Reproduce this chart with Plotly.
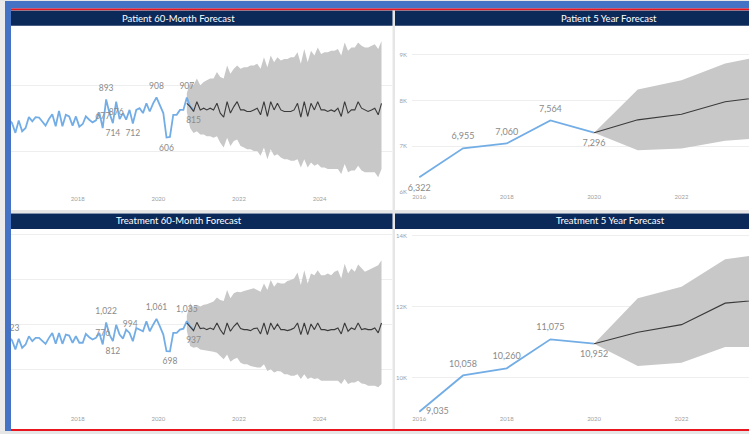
import pandas as pd
import plotly.graph_objects as go

W, H = 749, 434

# ---------------- data ----------------
# monthly points (mid-month), Jan 2016 onwards
month_start = "2016-01-01"
n_months = 115
hist_len = 59          # Jan 2016 .. Nov 2020
fc_start = 56          # forecast starts Sep 2020

patient_hist = [720, 760, 690, 745, 715, 641, 735, 653, 678, 760,
                728, 760, 757, 728, 696, 745, 782, 691, 807, 691,
                777, 765, 696, 765, 688, 708, 765, 740, 720, 735,
                795, 677, 893, 790, 714, 876, 745, 790, 740, 814,
                712, 814, 827, 790, 864, 802, 864, 908, 851, 790,
                606, 610, 777, 777, 814, 814, 907, 840, 815]
patient_fc = [864,
              839, 802, 876, 814, 827, 814, 827, 814, 864, 790,
              760, 876, 790, 839, 876, 814, 814, 802, 802, 814,
              827, 777, 876, 765, 876, 814, 864, 814, 802, 802,
              802, 814, 864, 760, 876, 765, 864, 814, 876, 814,
              814, 802, 814, 802, 827, 765, 876, 790, 814, 814,
              876, 827, 814, 802, 814, 827, 777, 864]
patient_fc_hi = [940,
                 1025, 1000, 1050, 1000, 1025, 1037, 1050, 1050, 1099, 1062,
                 1050, 1149, 1087, 1124, 1149, 1124, 1136, 1136, 1149, 1149,
                 1161, 1124, 1210, 1136, 1223, 1173, 1210, 1186, 1198, 1198,
                 1210, 1210, 1248, 1161, 1272, 1173, 1260, 1223, 1285, 1235,
                 1248, 1248, 1260, 1260, 1272, 1223, 1322, 1260, 1285, 1285,
                 1322, 1297, 1285, 1285, 1297, 1309, 1272, 1334]
patient_fc_lo = [800,
                 678, 641, 653, 629, 629, 616, 616, 604, 616, 567,
                 530, 604, 542, 579, 592, 542, 530, 517, 517, 505,
                 505, 468, 530, 443, 517, 468, 480, 456, 443, 443,
                 431, 431, 443, 381, 443, 381, 418, 394, 406, 381,
                 381, 369, 369, 369, 369, 332, 406, 344, 357, 357,
                 394, 357, 344, 344, 344, 344, 307, 369]
patient_labels = [(31, "top center"), (32, "top center"), (34, "bottom center"),
                  (35, "bottom center"), (40, "bottom center"), (47, "top center"),
                  (50, "bottom center"), (56, "top center"), (58, "bottom center")]

treat_hist = [850, 880, 800, 860, 823, 720, 838, 738, 775, 867,
              812, 849, 849, 819, 782, 849, 904, 782, 904, 782,
              886, 875, 794, 867, 794, 794, 893, 856, 830, 849,
              904, 776, 1022, 886, 812, 994, 886, 841, 941, 904,
              812, 959, 941, 923, 1033, 923, 996, 1061, 978, 886,
              701, 698, 904, 904, 941, 952, 1035, 978, 937]
treat_fc = [1015,
            978, 930, 1022, 952, 959, 941, 959, 941, 1015, 941,
            886, 1015, 923, 978, 1015, 952, 941, 941, 930, 952,
            959, 893, 1015, 886, 1015, 941, 1004, 941, 941, 930,
            941, 959, 1015, 886, 1015, 886, 1004, 941, 1015, 941,
            941, 930, 941, 941, 959, 893, 1015, 923, 959, 941,
            1015, 941, 952, 941, 941, 959, 904, 1015]
treat_fc_hi = [1100,
               1236, 1181, 1218, 1199, 1218, 1225, 1236, 1254, 1299, 1273,
               1262, 1383, 1291, 1347, 1365, 1358, 1372, 1383, 1394, 1402,
               1383, 1365, 1457, 1383, 1494, 1420, 1468, 1457, 1457, 1483,
               1494, 1513, 1579, 1439, 1605, 1457, 1568, 1549, 1605, 1549,
               1549, 1568, 1549, 1586, 1605, 1513, 1678, 1568, 1623, 1586,
               1667, 1623, 1586, 1605, 1623, 1642, 1660, 1715]
treat_fc_lo = [930,
               757, 738, 746, 720, 709, 701, 701, 694, 683, 646,
               609, 664, 583, 609, 628, 572, 554, 554, 535, 524,
               517, 517, 554, 480, 499, 462, 480, 473, 443, 443,
               425, 425, 443, 388, 443, 388, 406, 388, 399, 370,
               370, 370, 370, 370, 370, 333, 388, 333, 351, 351,
               370, 340, 333, 314, 314, 314, 296, 333]
treat_labels = [(4, "top center"), (31, "top center"), (32, "top center"),
                (34, "bottom center"), (35, "middle right"), (47, "top center"),
                (51, "bottom center"), (56, "top center"), (58, "bottom center")]

# yearly
years_hist = [2016, 2017, 2018, 2019, 2020]
years_fc = [2020, 2021, 2022, 2023, 2024]
patient_year = [6322, 6955, 7060, 7564, 7296]
patient_year_fc = [7296, 7577, 7700, 7974, 8090]
patient_year_hi = [7296, 8243, 8445, 8807, 9000]
patient_year_lo = [7296, 6911, 6948, 7121, 7189]
patient_year_pos = ["bottom center", "top center", "top center", "top center", "bottom center"]

treat_year = [9035, 10058, 10260, 11075, 10952]
treat_year_fc = [10952, 11276, 11489, 12095, 12205]
treat_year_hi = [10952, 12235, 12560, 13332, 13500]
treat_year_lo = [10952, 10326, 10419, 10858, 10860]
treat_year_pos = ["middle right", "top center", "top center", "top center", "bottom center"]

titles = ["Patient 60-Month Forecast", "Patient 5 Year Forecast",
          "Treatment 60-Month Forecast", "Treatment 5 Year Forecast"]
month_ticks = ["2018-01-01", "2020-01-01", "2022-01-01", "2024-01-01"]
month_tick_text = ["2018", "2020", "2022", "2024"]
year_ticks = [2016, 2018, 2020, 2022]
patient_year_ticks = [6000, 7000, 8000, 9000]
patient_year_tick_text = ["6K", "7K", "8K", "9K"]
treat_year_ticks = [10000, 12000, 14000]
treat_year_tick_text = ["10K", "12K", "14K"]

# ---------------- styles ----------------
BLUE_LINE = "#73ade6"
FC_LINE = "#3a3a3a"
BAND = "#c8c8c8"
GRID = "#eeeeee"
LABEL = "#8a8a8a"
TICK = "#a0a0a0"
NAVY = "#0b2a5a"
FRAME_BLUE = "#4472c4"
RED = "#e8141e"
FONT = "Lato, 'Open Sans', sans-serif"


def fx(p):
    return p / W


def fy(p):
    return 1 - p / H


months = [d.strftime("%Y-%m-%d") for d in
          (pd.date_range(month_start, periods=n_months, freq="MS") + pd.Timedelta(days=14))]
hist_dates = months[:hist_len]
fc_dates = months[fc_start:fc_start + len(patient_fc)]

fig = go.Figure()


def add_monthly(hist, fc, hi, lo, labels, xa, ya):
    fig.add_trace(go.Scatter(x=fc_dates + fc_dates[::-1], y=hi + lo[::-1], fill="toself",
                             fillcolor=BAND, line=dict(width=0), mode="lines",
                             xaxis=xa, yaxis=ya, hoverinfo="skip"))
    fig.add_trace(go.Scatter(x=hist_dates, y=hist, mode="lines",
                             line=dict(color=BLUE_LINE, width=1.8),
                             xaxis=xa, yaxis=ya, hoverinfo="skip"))
    fig.add_trace(go.Scatter(x=fc_dates, y=fc, mode="lines",
                             line=dict(color=FC_LINE, width=1.1),
                             xaxis=xa, yaxis=ya, hoverinfo="skip"))
    idx = [k for k, _ in labels]
    fig.add_trace(go.Scatter(x=[hist_dates[k] for k in idx], y=[hist[k] for k in idx],
                             mode="markers+text", text=[f"{hist[k]:,}" for k in idx],
                             textposition=[p for _, p in labels],
                             marker=dict(size=9, color="rgba(0,0,0,0)"),
                             textfont=dict(size=8.5, color=LABEL, family=FONT),
                             cliponaxis=True, xaxis=xa, yaxis=ya, hoverinfo="skip"))


def add_yearly(hist, fc, hi, lo, pos, xa, ya):
    fig.add_trace(go.Scatter(x=years_fc + years_fc[::-1], y=hi + lo[::-1], fill="toself",
                             fillcolor=BAND, line=dict(width=0), mode="lines",
                             xaxis=xa, yaxis=ya, hoverinfo="skip"))
    fig.add_trace(go.Scatter(x=years_hist, y=hist, mode="lines",
                             line=dict(color=BLUE_LINE, width=1.8),
                             xaxis=xa, yaxis=ya, hoverinfo="skip"))
    fig.add_trace(go.Scatter(x=years_fc, y=fc, mode="lines",
                             line=dict(color=FC_LINE, width=1.1),
                             xaxis=xa, yaxis=ya, hoverinfo="skip"))
    fig.add_trace(go.Scatter(x=years_hist, y=hist, mode="markers+text",
                             text=[f"{v:,}" for v in hist], textposition=pos,
                             marker=dict(size=9, color="rgba(0,0,0,0)"),
                             textfont=dict(size=9, color=LABEL, family=FONT),
                             cliponaxis=False, xaxis=xa, yaxis=ya, hoverinfo="skip"))


add_monthly(patient_hist, patient_fc, patient_fc_hi, patient_fc_lo, patient_labels, "x", "y")
add_yearly(patient_year, patient_year_fc, patient_year_hi, patient_year_lo, patient_year_pos, "x2", "y2")
add_monthly(treat_hist, treat_fc, treat_fc_hi, treat_fc_lo, treat_labels, "x3", "y3")
add_yearly(treat_year, treat_year_fc, treat_year_hi, treat_year_lo, treat_year_pos, "x4", "y4")

tickfont = dict(size=6, color=TICK, family=FONT)
month_x = dict(type="date", range=["2016-05-06", "2025-10-18"], tickvals=month_ticks,
               ticktext=month_tick_text, showgrid=False, zeroline=False, showline=False,
               ticks="", tickfont=tickfont, domain=[fx(11), fx(392)])
year_x = dict(range=[2015.833, 2023.545], tickvals=year_ticks, ticktext=[str(t) for t in year_ticks],
              showgrid=False, zeroline=False, showline=False, ticks="", tickfont=tickfont,
              domain=[fx(412), 1])

fig.update_layout(
    width=W, height=H, margin=dict(l=0, r=0, t=0, b=0),
    paper_bgcolor="#e6e6e6", plot_bgcolor="rgba(0,0,0,0)", showlegend=False,
    hovermode=False,
    xaxis=dict(month_x, anchor="y"),
    yaxis=dict(domain=[fy(195), fy(27)], range=[179, 1433], dtick=500, tick0=0,
               gridcolor=GRID, showticklabels=False, zeroline=False, anchor="x"),
    xaxis2=dict(year_x, anchor="y2"),
    yaxis2=dict(domain=[fy(192.7), fy(31)], range=[6000, 9505], tickvals=patient_year_ticks,
                ticktext=patient_year_tick_text, gridcolor=GRID, zeroline=False, ticks="",
                tickfont=tickfont, ticklabelstandoff=4, anchor="x2"),
    xaxis3=dict(month_x, anchor="y3"),
    yaxis3=dict(domain=[fy(416.7), fy(234)], range=[0, 2022], dtick=500, tick0=0,
                gridcolor=GRID, showticklabels=False, zeroline=False, anchor="x3"),
    xaxis4=dict(year_x, anchor="y4"),
    yaxis4=dict(domain=[fy(417), fy(234)], range=[8968, 14075], tickvals=treat_year_ticks,
                ticktext=treat_year_tick_text, gridcolor=GRID, zeroline=False, ticks="",
                tickfont=tickfont, ticklabelstandoff=4, anchor="x4"),
)


def rect(x0, y0, x1, y1, color, layer="below"):
    fig.add_shape(type="rect", xref="paper", yref="paper", x0=fx(x0), x1=fx(x1),
                  y0=fy(y1), y1=fy(y0), fillcolor=color, line=dict(width=0), layer=layer)


# panels
rect(11, 9, 392.5, 211, "white")
rect(395, 9, 749, 211, "white")
rect(11, 214, 392.5, 432, "white")
rect(395, 214, 749, 432, "white")
# title bars
rect(11, 9.5, 392.5, 25, NAVY, "above")
rect(395, 9.5, 749, 25, NAVY, "above")
rect(11, 214.5, 392.5, 230, NAVY, "above")
rect(395, 214.5, 749, 230, NAVY, "above")
# frame
rect(5, 0, 749, 7.5, FRAME_BLUE, "above")
rect(11, 7.5, 749, 9.3, RED, "above")
rect(0, 0, 5, 434, "#ebebeb", "above")
rect(5, 0, 11, 434, FRAME_BLUE, "above")
rect(11, 432, 749, 434, RED, "above")

title_pos = [(178, 17.3), (609, 17.3), (179, 222), (610, 222)]
for t, (x, y) in zip(titles, title_pos):
    fig.add_annotation(text=t, x=fx(x), y=fy(y), xref="paper", yref="paper", showarrow=False,
                       xanchor="center", yanchor="middle",
                       font=dict(size=9.5, color="white", family=FONT))

fig.write_html("out.html", config={"displayModeBar": False},
               post_script="document.body.style.margin='0';document.body.style.overflow='hidden';")
